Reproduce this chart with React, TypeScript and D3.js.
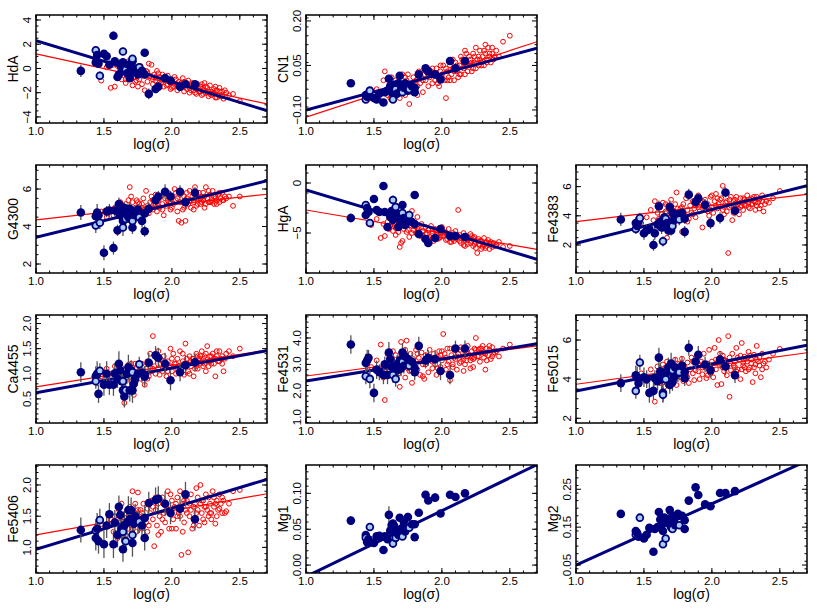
import React from "react";
import * as d3 from "d3";

// shared abscissae: log(sigma) of the blue sample and of the red comparison sample
const logSigmaBlue = [
  1.33, 1.44, 1.44, 1.45, 1.46, 1.47, 1.50, 1.52, 1.54, 1.57,
  1.58, 1.60, 1.61, 1.62, 1.63, 1.64, 1.64, 1.65, 1.66, 1.67,
  1.68, 1.69, 1.70, 1.71, 1.71, 1.72, 1.73, 1.75, 1.76, 1.78,
  1.80, 1.80, 1.83, 1.88, 1.90, 1.95, 1.99, 2.06, 2.10, 2.17,
];
const blueOpen = [
  0, 0, 1, 0, 0, 1, 0, 0, 0, 0,
  0, 0, 0, 0, 0, 0, 1, 0, 1, 0,
  0, 0, 0, 0, 1, 0, 0, 0, 1, 0,
  0, 0, 0, 0, 0, 0, 0, 0, 0, 0,
];
const logSigmaRed = [
  1.48, 1.52, 1.55, 1.57, 1.58, 1.60, 1.61, 1.62, 1.63, 1.64,
  1.65, 1.66, 1.67, 1.68, 1.69, 1.70, 1.71, 1.72, 1.73, 1.74,
  1.75, 1.76, 1.77, 1.78, 1.79, 1.80, 1.81, 1.82, 1.83, 1.84,
  1.85, 1.86, 1.87, 1.88, 1.89, 1.90, 1.91, 1.92, 1.93, 1.94,
  1.95, 1.96, 1.97, 1.98, 1.99, 2.00, 2.01, 2.02, 2.03, 2.04,
  2.05, 2.06, 2.07, 2.08, 2.09, 2.10, 2.11, 2.12, 2.13, 2.14,
  2.15, 2.16, 2.17, 2.18, 2.19, 2.20, 2.21, 2.22, 2.23, 2.24,
  2.25, 2.26, 2.27, 2.28, 2.29, 2.30, 2.31, 2.32, 2.33, 2.34,
  2.35, 2.36, 2.37, 2.38, 2.40, 2.42, 2.45, 2.50,
  1.66, 1.70, 1.73, 1.78, 1.82, 1.86, 1.90, 1.93, 1.97, 2.00,
  2.03, 2.06, 2.08, 2.11, 2.13, 2.16, 2.18, 2.21, 2.23, 2.25,
  2.27, 2.29, 2.31, 2.33, 2.35, 2.37, 2.39, 2.04, 2.14, 2.19,
  2.24, 2.28, 2.32, 2.22, 2.17, 2.09, 1.99, 1.88, 1.75, 1.68,
];

// HdA
const hdaBlue = [-0.2, 0.5, 1.5, 1.1, 0.4, -0.6, 1.2, 1.0, 0.3, 2.7, 0.6, -0.7, -0.5, 0.3, 0.0, 0.5, 1.4, 0.2, -0.1, -0.4, 0.3, -0.8, 0.1, 0.6, 0.8, -0.3, 0.0, -0.5, 0.1, -0.2, 1.3, -0.5, -2.1, -1.7, -1.5, -0.8, -1.0, -1.5, -1.3, -1.3];
const hdaErr = [0.5, 0.35, 0.3, 0.4, 0.3, 0.35, 0.3, 0.4, 0.3, 0.35, 0.3, 0.3, 0.35, 0.3, 0.4, 0.3, 0.3, 0.35, 0.3, 0.3, 0.4, 0.3, 0.35, 0.3, 0.3, 0.35, 0.3, 0.4, 0.3, 0.3, 0.3, 0.35, 0.45, 0.35, 0.3, 0.35, 0.3, 0.3, 0.25, 0.3];
const hdaRed = [
  -1.0, 0.1, -1.6, 0.3, -1.5, 0.2, -0.6, 0.5, -0.9, -0.2,
  0.0, -1.2, -0.4, 0.6, -0.8, -0.2, -1.4, 0.1, -0.7, -1.0,
  -0.3, -0.9, 0.2, -1.3, -0.5, -1.8, -0.2, -1.1, 0.4, -0.6,
  0.3, -1.3, -0.5, -1.0, -0.2, -1.4, -0.7, -1.2, -0.5, -1.5,
  -0.9, -1.4, -0.6, -1.1, -1.7, -1.0, -1.5, -0.7, -1.3, -1.8,
  -1.1, -1.6, -1.2, -0.8, -1.9, -1.3, -1.7, -1.0, -2.0, -1.4,
  -1.2, -1.8, -1.5, -2.1, -1.3, -1.9, -1.5, -2.2, -1.6, -1.2,
  -2.0, -1.6, -2.3, -1.4, -1.9, -2.1, -1.7, -2.4, -1.8, -2.2,
  -1.6, -2.3, -1.9, -2.5, -2.0, -2.2, -2.1, -2.7,
  -0.9, 0.4, -1.1, -0.6, -0.3, -0.9, -0.4, -1.0, -1.3, -1.6,
  -0.9, -1.3, -1.5, -1.2, -1.6, -1.4, -1.7, -1.9, -2.1, -1.5,
  -1.9, -2.2, -2.0, -2.4, -1.9, -2.2, -1.8, -1.4, -1.8, -1.6,
  -1.8, -2.1, -1.5, -1.3, -2.0, -1.1, -1.2, -0.7, -1.5, -0.4,
];

// CN1
const cn1Blue = [-0.01, -0.05, -0.065, -0.055, -0.045, -0.035, -0.06, -0.065, -0.045, -0.075, -0.04, -0.035, 0.005, -0.02, -0.04, -0.025, -0.065, -0.015, -0.03, -0.045, -0.01, 0.015, -0.03, -0.02, -0.04, -0.025, -0.01, -0.035, -0.03, -0.02, -0.04, -0.025, 0.02, 0.04, 0.03, 0.02, 0.003, 0.065, 0.04, 0.065];
const cn1Err = [0.012, 0.01, 0.01, 0.012, 0.01, 0.01, 0.012, 0.01, 0.01, 0.012, 0.01, 0.01, 0.014, 0.01, 0.012, 0.01, 0.01, 0.012, 0.01, 0.01, 0.012, 0.01, 0.01, 0.012, 0.01, 0.01, 0.01, 0.012, 0.01, 0.01, 0.01, 0.01, 0.012, 0.01, 0.01, 0.01, 0.01, 0.01, 0.01, 0.01];
const cn1Red = [
  -0.06, -0.03, -0.07, 0.00, 0.03, -0.05, -0.02, -0.06, 0.01, -0.03,
  -0.05, 0.00, -0.04, -0.01, -0.06, -0.02, 0.02, -0.03, -0.05, 0.00,
  -0.02, -0.08, -0.01, -0.04, 0.01, -0.03, 0.00, -0.02, 0.03, -0.01,
  0.01, -0.04, 0.02, 0.00, 0.04, -0.02, 0.01, 0.03, -0.01, 0.02,
  0.00, 0.04, 0.01, -0.02, 0.03, 0.02, 0.05, 0.00, -0.06, 0.03,
  0.01, 0.05, 0.02, 0.04, 0.00, 0.06, 0.03, 0.01, 0.05, 0.02,
  0.07, 0.04, 0.02, 0.06, 0.03, 0.08, 0.05, 0.03, 0.09, 0.06,
  0.04, 0.07, 0.05, 0.10, 0.06, 0.08, 0.05, 0.09, 0.07, 0.11,
  0.08, 0.06, 0.09, 0.07, 0.10, 0.08, 0.13, 0.15,
  -0.05, -0.04, 0.01, -0.01, -0.05, 0.00, 0.02, 0.04, -0.01, 0.01,
  0.04, 0.00, 0.07, 0.05, 0.02, 0.06, 0.09, 0.07, 0.04, 0.11,
  0.08, 0.05, 0.10, 0.06, 0.09, 0.11, 0.08, 0.00, 0.08, 0.05,
  0.08, 0.07, 0.12, 0.06, 0.10, 0.03, 0.05, 0.03, 0.02, -0.03,
];

// G4300
const g4300Blue = [4.75, 4.55, 4.05, 4.75, 4.6, 4.2, 2.6, 4.8, 4.85, 2.85, 4.85, 3.8, 5.2, 4.6, 4.9, 4.3, 3.95, 5.0, 4.4, 4.7, 4.5, 4.95, 4.4, 3.95, 4.3, 4.8, 4.6, 4.9, 4.5, 4.3, 3.75, 4.7, 4.95, 5.4, 5.6, 5.85, 5.6, 5.85, 5.3, 5.8];
const g4300Err = [0.4, 0.35, 0.4, 0.45, 0.3, 0.35, 0.4, 0.3, 0.35, 0.35, 0.3, 0.3, 0.35, 0.4, 0.3, 0.35, 0.45, 0.3, 0.35, 0.4, 0.3, 0.35, 0.3, 0.35, 0.3, 0.3, 0.35, 0.3, 0.3, 0.35, 0.3, 0.3, 0.35, 0.35, 0.3, 0.4, 0.3, 0.35, 0.35, 0.3];
const g4300Red = [
  4.8, 4.5, 4.9, 4.6, 5.0, 3.7, 4.9, 5.3, 4.7, 5.1,
  4.5, 5.2, 4.8, 5.4, 6.1, 4.9, 5.3, 4.6, 5.0, 5.4,
  4.8, 5.2, 4.5, 5.0, 5.5, 4.9, 5.9, 5.1, 4.7, 5.3,
  5.6, 4.9, 5.2, 5.7, 4.8, 5.4, 5.0, 5.6, 5.2, 4.6,
  5.5, 5.1, 5.8, 5.3, 4.9, 5.6, 5.2, 6.0, 5.4, 4.8,
  4.3, 5.7, 4.2, 5.3, 5.0, 4.3, 5.5, 5.2, 5.9, 5.0,
  5.6, 5.3, 6.1, 5.1, 5.5, 5.8, 5.2, 5.6, 5.4, 5.0,
  6.1, 5.5, 5.3, 5.7, 5.4, 5.9, 5.2, 5.6, 5.4, 5.7,
  5.3, 5.5, 5.8, 5.4, 5.5, 5.6, 5.1, 5.6,
  4.9, 5.6, 4.4, 5.2, 4.9, 5.4, 5.1, 4.9, 5.4, 5.0,
  5.8, 5.3, 4.9, 5.8, 5.4, 4.9, 5.7, 5.5, 5.8, 5.2,
  5.9, 5.3, 5.6, 5.2, 5.8, 5.4, 5.6, 5.5, 5.4, 5.2,
  5.6, 5.3, 5.5, 5.3, 5.5, 5.6, 5.3, 5.2, 5.3, 5.0,
];

// HgA
const hgaBlue = [-3.5, -3.2, -2.2, -2.5, -2.9, -4.0, -1.6, -2.7, -2.9, -0.3, -2.9, -4.4, -3.0, -3.4, -2.8, -3.7, -1.7, -3.0, -2.4, -3.4, -4.4, -3.1, -3.8, -2.2, -3.0, -3.5, -4.2, -3.6, -3.2, -3.9, -1.2, -4.1, -5.1, -5.6, -6.0, -5.5, -4.6, -5.3, -5.3, -5.4];
const hgaErr = [0.45, 0.4, 0.4, 0.45, 0.35, 0.4, 0.4, 0.35, 0.4, 0.4, 0.35, 0.4, 0.35, 0.4, 0.35, 0.4, 0.45, 0.35, 0.4, 0.4, 0.35, 0.4, 0.35, 0.4, 0.35, 0.35, 0.4, 0.35, 0.35, 0.4, 0.35, 0.4, 0.4, 0.35, 0.35, 0.4, 0.35, 0.35, 0.35, 0.35];
const hgaRed = [
  -4.2, -3.6, -5.5, -4.1, -5.3, -3.9, -4.6, -4.3, -3.7, -4.8,
  -4.0, -5.2, -4.4, -3.8, -6.4, -4.1, -5.8, -4.6, -3.5, -4.9,
  -4.2, -5.4, -3.9, -2.8, -4.7, -4.3, -5.0, -3.4, -4.6, -5.3,
  -4.1, -4.8, -5.6, -4.4, -5.1, -4.7, -5.4, -4.3, -5.0, -5.8,
  -4.6, -5.2, -4.9, -5.5, -5.0, -4.4, -5.3, -4.9, -5.7, -5.1,
  -4.6, -5.5, -5.9, -5.0, -5.4, -4.8, -5.6, -2.7, -5.2, -6.0,
  -5.4, -5.0, -5.7, -5.3, -6.1, -5.5, -5.1, -5.8, -6.3, -5.4,
  -5.9, -7.0, -5.6, -6.2, -5.8, -6.4, -5.5, -6.0, -6.3, -5.7,
  -6.1, -5.9, -6.4, -6.0, -6.2, -5.9, -6.4, -6.3,
  -4.5, -6.0, -4.3, -5.0, -4.6, -5.3, -5.5, -4.8, -5.6, -5.3,
  -5.0, -5.9, -5.6, -5.2, -5.8, -6.2, -5.6, -6.0, -5.5, -6.5,
  -6.1, -6.6, -6.2, -5.9, -6.6, -6.1, -6.3, -5.6, -5.5, -5.7,
  -6.1, -5.8, -6.5, -5.3, -6.3, -5.8, -5.4, -5.1, -4.7, -4.9,
];

// Fe4383
const fe4383Blue = [3.75, 3.5, 3.1, 3.3, 3.6, 3.85, 2.8, 3.0, 3.1, 2.0, 2.8, 3.4, 4.65, 3.6, 3.2, 3.3, 2.25, 3.9, 3.8, 3.5, 3.0, 4.6, 3.0, 4.2, 3.3, 3.7, 3.9, 4.1, 3.75, 4.2, 2.9, 3.8, 5.45, 4.95, 5.2, 4.75, 3.5, 3.85, 5.6, 4.35];
const fe4383Err = [0.45, 0.4, 0.35, 0.45, 0.4, 0.35, 0.45, 0.4, 0.35, 0.4, 0.45, 0.35, 0.4, 0.35, 0.45, 0.4, 0.35, 0.45, 0.4, 0.35, 0.4, 0.45, 0.35, 0.4, 0.35, 0.4, 0.45, 0.35, 0.4, 0.35, 0.4, 0.35, 0.4, 0.4, 0.35, 0.4, 0.4, 0.4, 0.35, 0.4];
const fe4383Red = [
  3.5, 3.9, 4.4, 3.7, 5.0, 4.2, 3.8, 4.6, 4.1, 4.9,
  3.6, 4.3, 2.5, 4.7, 3.9, 5.1, 4.4, 3.5, 4.8, 5.6,
  4.2, 3.9, 4.5, 2.9, 4.8, 4.1, 5.2, 4.4, 3.8, 4.7,
  4.2, 5.0, 4.5, 3.9, 4.8, 5.4, 4.3, 4.9, 3.2, 4.6,
  5.1, 4.4, 4.8, 4.0, 5.3, 4.6, 4.2, 5.0, 5.5, 4.5,
  4.8, 3.9, 5.2, 6.05, 4.6, 4.9, 4.3, 1.45, 5.1, 4.7,
  3.7, 5.0, 4.5, 5.3, 4.8, 4.1, 5.2, 4.9, 4.4, 5.1,
  4.7, 5.4, 4.9, 4.5, 5.2, 4.8, 5.0, 4.4, 5.3, 4.9,
  5.1, 4.7, 5.4, 4.3, 5.0, 4.9, 5.2, 5.7,
  4.8, 3.8, 4.2, 4.6, 3.6, 4.1, 4.6, 5.0, 4.3, 5.4,
  4.7, 5.1, 4.4, 5.0, 4.6, 4.2, 4.9, 4.6, 5.2, 5.0,
  4.6, 4.8, 5.3, 4.7, 4.5, 5.0, 4.8, 5.2, 5.3, 4.5,
  4.8, 5.1, 4.9, 4.7, 5.1, 4.1, 4.4, 4.7, 4.5, 4.0,
];

// Ca4455
const ca4455Blue = [1.03, 0.95, 0.85, 1.0, 0.6, 1.06, 0.78, 1.0, 0.78, 0.78, 1.01, 0.9, 1.2, 1.07, 0.85, 0.67, 0.85, 0.55, 0.67, 1.0, 1.13, 0.67, 1.07, 0.67, 1.03, 0.8, 0.9, 1.0, 1.19, 1.02, 0.97, 0.94, 1.22, 1.37, 1.32, 1.2, 0.87, 1.03, 1.17, 1.23];
const ca4455Err = [0.2, 0.2, 0.15, 0.25, 0.18, 0.15, 0.22, 0.25, 0.2, 0.22, 0.2, 0.18, 0.25, 0.2, 0.22, 0.2, 0.15, 0.22, 0.15, 0.2, 0.25, 0.22, 0.2, 0.25, 0.15, 0.22, 0.2, 0.18, 0.15, 0.2, 0.18, 0.2, 0.2, 0.18, 0.2, 0.22, 0.2, 0.18, 0.2, 0.18];
const ca4455Red = [
  0.95, 1.1, 1.0, 0.85, 1.15, 0.95, 1.05, 0.88, 1.12, 0.98,
  0.42, 1.08, 0.92, 1.18, 1.0, 0.85, 1.12, 0.58, 1.2, 0.95,
  1.05, 1.15, 0.9, 1.2, 1.0, 0.78, 1.1, 1.25, 0.95, 1.4,
  1.05, 1.75, 1.15, 1.0, 1.3, 1.1, 0.98, 1.2, 1.05, 1.35,
  1.1, 0.95, 1.25, 1.15, 1.5, 1.05, 1.4, 1.2, 1.0, 1.3,
  1.15, 1.45, 1.1, 1.25, 0.98, 1.6, 1.2, 1.05, 1.35, 1.15,
  1.3, 0.95, 1.25, 1.4, 1.1, 1.3, 1.2, 1.45, 1.15, 1.35,
  1.05, 1.55, 1.25, 1.35, 1.2, 1.4, 1.3, 0.95, 1.35, 1.25,
  1.45, 1.3, 1.35, 1.05, 1.4, 1.45, 1.35, 1.5,
  1.0, 1.2, 0.88, 1.05, 0.9, 1.1, 1.45, 1.25, 1.05, 1.3,
  1.2, 1.05, 1.4, 1.3, 1.0, 1.3, 1.15, 1.35, 1.3, 1.4,
  1.15, 1.35, 1.2, 1.45, 1.25, 1.2, 1.3, 1.1, 1.25, 1.35,
  1.2, 1.25, 1.3, 1.25, 1.1, 1.2, 1.15, 1.35, 1.0, 1.0,
];

// Fe4531
const fe4531Blue = [3.75, 3.05, 2.55, 3.15, 3.25, 2.45, 1.92, 2.8, 2.7, 2.6, 3.0, 2.6, 3.45, 3.2, 2.9, 2.65, 2.6, 2.9, 2.45, 3.0, 2.8, 3.15, 2.85, 3.45, 3.1, 2.95, 3.3, 3.2, 2.95, 3.1, 2.85, 2.7, 3.7, 3.15, 3.25, 3.2, 2.75, 2.6, 3.6, 3.6];
const fe4531Err = [0.35, 0.35, 0.3, 0.4, 0.3, 0.35, 0.35, 0.35, 0.3, 0.35, 0.3, 0.35, 0.4, 0.3, 0.35, 0.3, 0.3, 0.35, 0.3, 0.35, 0.4, 0.35, 0.3, 0.35, 0.3, 0.3, 0.35, 0.3, 0.3, 0.35, 0.3, 0.3, 0.35, 0.3, 0.3, 0.35, 0.35, 0.35, 0.3, 0.3];
const fe4531Red = [
  2.9, 3.15, 3.75, 2.5, 1.65, 3.4, 2.8, 3.2, 2.6, 3.5,
  2.95, 3.35, 2.7, 3.1, 2.15, 3.85, 2.9, 3.3, 2.5, 3.9,
  3.05, 2.75, 3.4, 2.3, 3.2, 2.95, 3.55, 2.8, 3.25, 2.6,
  3.45, 3.0, 2.45, 3.35, 3.1, 2.7, 3.55, 3.2, 2.85, 3.4,
  3.0, 2.6, 3.3, 3.5, 2.9, 3.15, 4.15, 3.4, 2.8, 3.6,
  3.1, 2.4, 3.35, 2.9, 3.55, 3.2, 2.8, 3.4, 3.05, 3.65,
  3.3, 2.75, 3.5, 3.15, 3.7, 3.35, 2.85, 3.5, 3.2, 3.6,
  4.0, 3.3, 3.55, 3.1, 3.45, 3.7, 3.25, 2.8, 3.6, 3.35,
  3.55, 3.2, 3.65, 3.4, 3.5, 3.3, 3.6, 3.75,
  2.8, 3.2, 3.55, 3.1, 3.4, 2.55, 3.3, 3.1, 2.85, 3.5,
  3.25, 3.6, 3.0, 3.3, 3.55, 3.2, 3.45, 3.15, 2.9, 3.55,
  3.3, 3.6, 3.45, 3.15, 3.7, 3.3, 3.45, 3.0, 3.1, 3.3,
  3.25, 3.6, 3.4, 3.25, 3.0, 3.25, 3.35, 3.0, 2.85, 2.65,
];

// Fe5015
const fe5015Blue = [3.8, 4.2, 3.4, 4.1, 3.8, 4.85, 4.1, 4.0, 3.3, 3.4, 4.05, 3.9, 5.1, 4.4, 4.0, 3.3, 3.2, 4.2, 4.0, 4.35, 4.6, 3.7, 4.8, 3.85, 4.45, 4.1, 4.6, 4.3, 4.35, 4.7, 4.05, 4.35, 5.6, 4.9, 5.25, 4.75, 4.45, 5.0, 4.65, 4.2];
const fe5015Err = [0.45, 0.5, 0.4, 0.55, 0.45, 0.4, 0.5, 0.45, 0.5, 0.45, 0.4, 0.45, 0.5, 0.45, 0.5, 0.45, 0.4, 0.5, 0.4, 0.45, 0.5, 0.45, 0.55, 0.45, 0.4, 0.45, 0.5, 0.45, 0.4, 0.45, 0.4, 0.45, 0.4, 0.4, 0.45, 0.4, 0.4, 0.4, 0.45, 0.4];
const fe5015Red = [
  4.3, 3.9, 4.5, 4.1, 2.85, 4.65, 4.2, 3.8, 4.4, 4.75,
  3.6, 4.3, 4.9, 4.0, 4.5, 3.9, 4.7, 4.2, 5.0, 3.7,
  4.45, 4.8, 4.1, 5.05, 3.9, 4.6, 4.2, 4.85, 3.8, 4.5,
  5.1, 4.3, 3.95, 4.7, 5.2, 4.4, 4.0, 4.9, 4.25, 5.3,
  4.6, 4.05, 4.8, 5.5, 4.3, 4.9, 4.1, 5.6, 4.5, 3.7,
  6.0, 4.7, 3.75, 5.2, 4.4, 4.95, 4.6, 6.2, 3.1, 4.8,
  5.3, 4.3, 4.9, 5.6, 4.5, 5.0, 4.0, 5.85, 4.7, 5.15,
  4.4, 4.9, 5.4, 4.6, 5.0, 3.85, 5.25, 4.75, 5.7, 4.9,
  5.1, 4.1, 5.3, 4.8, 4.6, 5.0, 5.3, 5.55,
  4.6, 4.4, 4.0, 4.4, 4.1, 4.9, 4.8, 4.6, 4.2, 4.5,
  5.0, 5.3, 4.6, 4.2, 5.1, 4.7, 4.4, 5.2, 4.85, 5.05,
  4.5, 4.8, 4.6, 5.0, 4.7, 4.5, 4.9, 4.85, 4.45, 5.1,
  4.6, 5.2, 4.3, 4.5, 4.6, 5.0, 4.7, 4.45, 4.25, 4.2,
];

// Fe5406
const fe5406Blue = [1.28, 1.15, 1.27, 1.3, 1.1, 1.44, 1.05, 1.35, 1.53, 1.05, 1.4, 1.2, 1.65, 1.52, 1.3, 0.97, 1.25, 1.35, 1.1, 1.4, 1.6, 1.45, 1.6, 1.07, 1.2, 1.38, 1.5, 1.42, 1.41, 1.35, 1.15, 1.47, 1.71, 1.76, 1.78, 1.7, 1.55, 1.62, 1.85, 1.45];
const fe5406Err = [0.2, 0.2, 0.18, 0.25, 0.2, 0.18, 0.22, 0.2, 0.18, 0.22, 0.2, 0.2, 0.18, 0.2, 0.22, 0.2, 0.18, 0.22, 0.18, 0.2, 0.22, 0.2, 0.2, 0.22, 0.18, 0.2, 0.2, 0.2, 0.18, 0.2, 0.2, 0.2, 0.18, 0.2, 0.2, 0.2, 0.18, 0.2, 0.2, 0.18];
const fe5406Red = [
  1.3, 1.35, 1.45, 1.25, 1.5, 1.15, 1.6, 1.35, 1.7, 1.45,
  1.25, 1.55, 1.4, 1.3, 1.65, 1.5, 1.9, 1.35, 1.55, 1.25,
  1.88, 1.45, 1.6, 1.3, 1.7, 1.5, 1.4, 1.62, 1.35, 1.55,
  1.75, 1.45, 1.02, 1.6, 1.35, 1.7, 1.5, 1.25, 1.8, 1.55,
  1.4, 1.65, 1.9, 1.3, 1.6, 1.75, 1.45, 1.65, 1.3, 1.8,
  1.55, 1.9, 0.88, 1.7, 1.4, 1.6, 1.75, 0.92, 1.5, 1.85,
  1.3, 1.65, 1.45, 1.95, 1.6, 1.35, 2.0, 1.55, 1.75, 1.4,
  1.85, 1.6, 1.5, 1.7, 1.45, 1.9, 1.65, 1.38, 1.75, 1.6,
  1.85, 1.7, 1.55, 1.75, 1.58, 1.7, 1.9, 1.92,
  1.2, 1.35, 1.7, 1.55, 1.25, 1.65, 1.2, 1.45, 1.6, 1.3,
  1.7, 1.5, 1.25, 1.55, 1.7, 1.35, 1.55, 1.7, 1.45, 1.65,
  1.8, 1.55, 1.8, 1.5, 1.62, 1.8, 1.55, 1.5, 1.6, 1.8,
  1.65, 1.55, 1.7, 1.75, 1.7, 1.75, 1.85, 1.8, 1.6, 1.5,
];

// Mg1, Mg2 (blue sample only)
const mg1Blue = [0.062, 0.042, 0.038, 0.032, 0.036, 0.053, 0.031, 0.04, 0.041, 0.021, 0.04, 0.036, 0.07, 0.048, 0.056, 0.058, 0.03, 0.054, 0.038, 0.046, 0.042, 0.066, 0.05, 0.052, 0.04, 0.06, 0.047, 0.067, 0.052, 0.057, 0.039, 0.057, 0.073, 0.098, 0.09, 0.094, 0.072, 0.098, 0.095, 0.1];
const mg1Err = [0.006, 0.005, 0.005, 0.006, 0.005, 0.005, 0.005, 0.005, 0.005, 0.005, 0.005, 0.005, 0.012, 0.005, 0.006, 0.005, 0.005, 0.005, 0.005, 0.005, 0.005, 0.005, 0.005, 0.005, 0.005, 0.005, 0.005, 0.006, 0.005, 0.005, 0.005, 0.005, 0.005, 0.005, 0.005, 0.006, 0.005, 0.005, 0.005, 0.005];
const mg2Blue = [0.185, 0.14, 0.13, 0.135, 0.125, 0.175, 0.12, 0.13, 0.148, 0.085, 0.145, 0.15, 0.19, 0.17, 0.155, 0.14, 0.105, 0.175, 0.12, 0.172, 0.16, 0.195, 0.15, 0.18, 0.145, 0.165, 0.155, 0.185, 0.155, 0.18, 0.145, 0.168, 0.22, 0.255, 0.235, 0.21, 0.205, 0.24, 0.24, 0.245];
const mg2Err = [0.006, 0.005, 0.005, 0.006, 0.005, 0.005, 0.005, 0.005, 0.005, 0.005, 0.005, 0.005, 0.006, 0.005, 0.006, 0.005, 0.005, 0.005, 0.005, 0.005, 0.005, 0.005, 0.005, 0.005, 0.005, 0.005, 0.005, 0.006, 0.005, 0.005, 0.005, 0.005, 0.005, 0.005, 0.005, 0.006, 0.005, 0.005, 0.005, 0.005];

// axes: y-range, labelled ticks, minor step; fits as [value at 1.0, value at 2.7]
const indexNames = ["HdA", "CN1", "G4300", "HgA", "Fe4383", "Ca4455", "Fe4531", "Fe5015", "Fe5406", "Mg1", "Mg2"];
const yDomains = [[-4.5, 4.41], [-0.144, 0.22], [1.52, 7.28], [-9, 1.8], [0.08, 7.48], [0.02, 2.17], [0.78, 4.87], [1.76, 7.28], [0.59, 2.32], [-0.011, 0.1395], [0.029, 0.314]];
const yTicks = [[-4, -2, 0, 2, 4], [-0.10, 0.05, 0.20], [2, 4, 6], [-5, 0], [2, 4, 6], [0.5, 1.0, 1.5, 2.0], [1, 2, 3, 4], [2, 4, 6], [1.0, 1.5, 2.0], [0, 0.05, 0.10], [0.05, 0.15, 0.25]];
const yMinor = [0.5, 0.03, 0.5, 1, 0.5, 0.1, 0.2, 0.5, 0.1, 0.01, 0.02];
const yFormats = ["d", ".2f", "d", "d", "d", ".1f", ".1f", "d", ".1f", ".2f", ".2f"];
const redFits = [[1.2, -2.93], [-0.124, 0.13], [4.35, 5.72], [-2.7, -6.63], [3.6, 5.47], [0.74, 1.47], [2.56, 3.70], [3.74, 5.35], [1.2, 1.86], null, null];
const blueFits = [[2.29, -3.48], [-0.1, 0.108], [3.42, 6.44], [-0.7, -7.63], [2.12, 6.06], [0.62, 1.46], [2.37, 3.78], [3.4, 5.74], [0.97, 2.09], [-0.016, 0.14], [0.05, 0.325]];
const xTicks = [1.0, 1.5, 2.0, 2.5];

const blueSets = [hdaBlue, cn1Blue, g4300Blue, hgaBlue, fe4383Blue, ca4455Blue, fe4531Blue, fe5015Blue, fe5406Blue, mg1Blue, mg2Blue];
const errSets = [hdaErr, cn1Err, g4300Err, hgaErr, fe4383Err, ca4455Err, fe4531Err, fe5015Err, fe5406Err, mg1Err, mg2Err];
const redSets = [hdaRed, cn1Red, g4300Red, hgaRed, fe4383Red, ca4455Red, fe4531Red, fe5015Red, fe5406Red, null, null];
const cells = [[0, 0], [0, 1], [1, 0], [1, 1], [1, 2], [2, 0], [2, 1], [2, 2], [3, 0], [3, 1], [3, 2]];

const W = 231, H = 108;
const colLeft = [36, 306, 576];
const rowTop = [15, 165, 315, 465];
const NAVY = "#00007f";
const FONT = "'Liberation Sans', Arial, Helvetica, sans-serif";

function Panel({ i }) {
  const [row, col] = cells[i];
  const x = d3.scaleLinear().domain([1.0, 2.7]).range([0, W]);
  const y = d3.scaleLinear().domain(yDomains[i]).range([H, 0]);
  const fmt = d3.format(yFormats[i]);
  const [y0, y1] = yDomains[i];
  const step = yMinor[i];
  const minorY = d3.range(Math.ceil(y0 / step) * step, y1, step);
  const minorX = d3.range(1.0, 2.7001, 0.1);
  const fitPath = (f) => d3.line<number[]>().x((d) => x(d[0])).y((d) => y(d[1]))([[1.0, f[0]], [2.7, f[1]]]);
  const red = redSets[i];
  const blue = blueSets[i];
  const err = errSets[i];
  const clipId = `clip-${i}`;
  return (
    <g transform={`translate(${colLeft[col]},${rowTop[row]})`}>
      <defs>
        <clipPath id={clipId}><rect x={0} y={0} width={W} height={H} /></clipPath>
      </defs>
      <g clipPath={`url(#${clipId})`}>
        {red && red.map((v, k) => (
          <circle key={`r${k}`} cx={x(logSigmaRed[k])} cy={y(v)} r={2.4} fill="none" stroke="#ff0000" strokeWidth={1} />
        ))}
        {redFits[i] && <path d={fitPath(redFits[i])} stroke="#ff0000" strokeWidth={1.2} fill="none" />}
        <path d={fitPath(blueFits[i])} stroke={NAVY} strokeWidth={3} fill="none" />
        {blue.map((v, k) => (
          <line key={`e${k}`} x1={x(logSigmaBlue[k])} x2={x(logSigmaBlue[k])} y1={y(v - err[k])} y2={y(v + err[k])} stroke="#555" strokeWidth={1.3} />
        ))}
        {blue.map((v, k) => blueOpen[k] ? (
          <circle key={`b${k}`} cx={x(logSigmaBlue[k])} cy={y(v)} r={3.4} fill="#a9cdf0" stroke={NAVY} strokeWidth={1.8} />
        ) : (
          <circle key={`b${k}`} cx={x(logSigmaBlue[k])} cy={y(v)} r={4.3} fill={NAVY} />
        ))}
      </g>
      <rect x={0} y={0} width={W} height={H} fill="none" stroke="#000" strokeWidth={1.5} />
      {minorX.map((t, k) => (
        <g key={`mx${k}`} stroke="#000" strokeWidth={1}>
          <line x1={x(t)} x2={x(t)} y1={H} y2={H - 2.5} />
          <line x1={x(t)} x2={x(t)} y1={0} y2={2.5} />
        </g>
      ))}
      {xTicks.map((t) => (
        <g key={`x${t}`}>
          <line x1={x(t)} x2={x(t)} y1={H} y2={H - 5} stroke="#000" />
          <line x1={x(t)} x2={x(t)} y1={0} y2={5} stroke="#000" />
          <text x={x(t)} y={H + 12} textAnchor="middle" fontSize={11.5} fontFamily={FONT}>{d3.format(".1f")(t)}</text>
        </g>
      ))}
      {minorY.map((t, k) => (
        <g key={`my${k}`} stroke="#000" strokeWidth={1}>
          <line x1={0} x2={2.5} y1={y(t)} y2={y(t)} />
          <line x1={W} x2={W - 2.5} y1={y(t)} y2={y(t)} />
        </g>
      ))}
      {yTicks[i].map((t) => (
        <g key={`y${t}`}>
          <line x1={0} x2={5} y1={y(t)} y2={y(t)} stroke="#000" />
          <line x1={W} x2={W - 5} y1={y(t)} y2={y(t)} stroke="#000" />
          <text transform={`translate(-5,${y(t)}) rotate(-90)`} textAnchor="middle" fontSize={11.5} fontFamily={FONT}>{fmt(t)}</text>
        </g>
      ))}
      <text x={W / 2} y={H + 26} textAnchor="middle" fontSize={14} fontFamily={FONT}>log(σ)</text>
      <text transform={`translate(-18,${H / 2}) rotate(-90)`} textAnchor="middle" fontSize={14} fontFamily={FONT}>{indexNames[i]}</text>
    </g>
  );
}

export default function App() {
  return (
    <svg width={817} height={613} style={{ position: "absolute", left: 0, top: 0, background: "#fff" }}>
      {indexNames.map((n, i) => <Panel key={n} i={i} />)}
    </svg>
  );
}
